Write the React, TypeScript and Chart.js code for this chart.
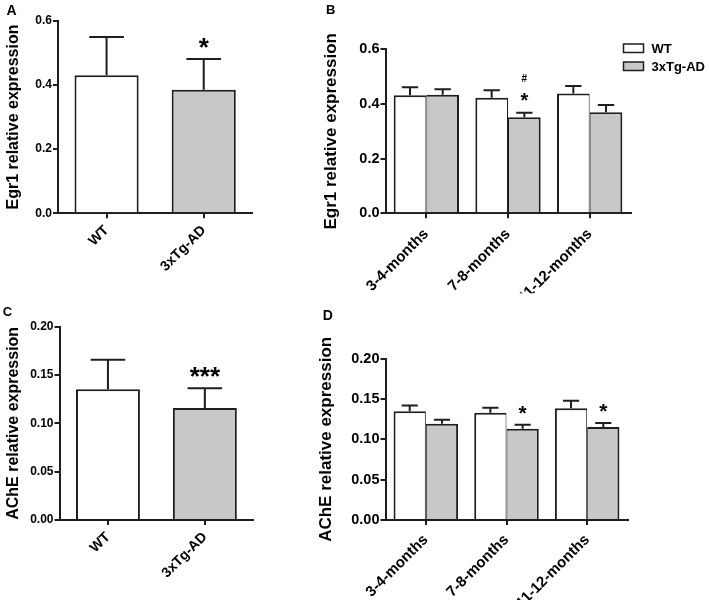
import React, { useEffect, useRef } from "react";
import { Chart, registerables } from "chart.js";

Chart.register(...registerables);

// ---------- data ----------
const groupLabels = ["WT", "3xTg-AD"];
const ageLabels = ["3-4-months", "7-8-months", "11-12-months"];
const seriesNames = ["WT", "3xTg-AD"];

const egr1Overall = [0.43, 0.385];
const egr1OverallErr = [0.119, 0.096];
const egr1OverallMarks = [[], ["*"]];

const egr1WT = [0.432, 0.423, 0.438];
const egr1WTErr = [0.029, 0.027, 0.028];
const egr1Tg = [0.434, 0.351, 0.37];
const egr1TgErr = [0.02, 0.017, 0.026];
const egr1TgMarks = [[], ["*", "#"], []];

const acheOverall = [0.1352, 0.1159];
const acheOverallErr = [0.0307, 0.0203];
const acheOverallMarks = [[], ["***"]];

const acheWT = [0.1347, 0.1331, 0.1385];
const acheWTErr = [0.0074, 0.0062, 0.0094];
const acheTg = [0.1194, 0.1132, 0.1153];
const acheTgErr = [0.005, 0.005, 0.005];
const acheTgMarks = [[], ["*"], ["*"]];

const egr1Ticks = { max: 0.6, step: 0.2, decimals: 1 };
const acheTicks = { max: 0.2, step: 0.05, decimals: 2 };

// ---------- style ----------
const FONT = "'Liberation Sans', Arial, Helvetica, sans-serif";
const INK = "#1e1e1e";
const WT_FILL = "#ffffff";
const TG_FILL = "#c8c8c8";
const W = 709;
const H = 610;

const errorBarPlugin = {
  id: "errorBars",
  afterDatasetsDraw(chart: any, _args: any, opts: any) {
    const ctx = chart.ctx;
    const y = chart.scales.y;
    chart.data.datasets.forEach((ds: any, di: number) => {
      const meta = chart.getDatasetMeta(di);
      meta.data.forEach((bar: any, i: number) => {
        const v = ds.data[i];
        const e = ds.errors ? ds.errors[i] : null;
        if (e == null) return;
        const top = y.getPixelForValue(v + e);
        const cw = bar.width * (opts.capRatio || 0.5);
        ctx.save();
        ctx.strokeStyle = INK;
        ctx.lineWidth = 2;
        ctx.beginPath();
        ctx.moveTo(bar.x, bar.y);
        ctx.lineTo(bar.x, top);
        ctx.moveTo(bar.x - cw / 2, top);
        ctx.lineTo(bar.x + cw / 2, top);
        ctx.stroke();
        const marks: string[] = ds.marks ? ds.marks[i] || [] : [];
        let center = top - opts.gap;
        ctx.fillStyle = "#000";
        ctx.textAlign = "center";
        ctx.textBaseline = "alphabetic";
        marks.forEach((m: string) => {
          const size = m === "#" ? opts.hashSize : opts.starSize;
          ctx.font = `bold ${size}px ${FONT}`;
          const mm = ctx.measureText(m);
          const baseline = center + (mm.actualBoundingBoxAscent - mm.actualBoundingBoxDescent) / 2;
          ctx.fillText(m, bar.x, baseline);
          center -= opts.spacing;
        });
        ctx.restore();
      });
    });
  },
};

const textPlugin = {
  id: "panelText",
  afterDraw(chart: any, _args: any, opts: any) {
    const ctx = chart.ctx;
    ctx.save();
    ctx.fillStyle = "#000";
    ctx.textAlign = "left";
    ctx.textBaseline = "alphabetic";
    ctx.font = `bold ${opts.letterSize}px ${FONT}`;
    ctx.fillText(opts.letter, opts.letterX, opts.letterY);
    if (opts.legend) {
      const L = opts.legend;
      chart.data.datasets.forEach((ds: any, i: number) => {
        const by = L.y + i * L.gap;
        ctx.fillStyle = ds.backgroundColor;
        ctx.fillRect(L.x, by, L.boxW, L.boxH);
        ctx.strokeStyle = INK;
        ctx.lineWidth = 1.5;
        ctx.strokeRect(L.x, by, L.boxW, L.boxH);
        ctx.fillStyle = "#000";
        ctx.font = `bold ${L.size}px ${FONT}`;
        ctx.textBaseline = "middle";
        ctx.fillText(ds.label, L.textX, by + L.boxH / 2 + 1);
      });
    }
    ctx.restore();
  },
};

function buildConfig(spec: any) {
  const lh = spec.titleSize * 1.2;
  const padLeft = spec.titleX - lh / 2;
  const yWidth = spec.area.left - padLeft;
  const xHeight = 80;
  const axisGrid = {
    display: true,
    drawOnChartArea: false,
    drawTicks: true,
    tickLength: 5,
    tickWidth: 2,
    tickColor: INK,
    color: INK,
    lineWidth: 2,
  };
  return {
    type: "bar",
    data: { labels: spec.labels, datasets: spec.datasets },
    options: {
      responsive: false,
      maintainAspectRatio: false,
      animation: false,
      events: [],
      layout: {
        padding: {
          left: padLeft,
          right: W - spec.area.right,
          top: spec.area.top,
          bottom: H - spec.area.bottom - xHeight,
        },
      },
      plugins: {
        legend: { display: false },
        tooltip: { enabled: false },
        title: { display: false },
        errorBars: spec.marks,
        panelText: spec.text,
      },
      scales: {
        x: {
          type: "category",
          offset: true,
          z: 1,
          grid: { ...axisGrid, offset: false },
          border: { display: true, color: INK, width: 2 },
          ticks: {
            color: "#000",
            font: { family: FONT, size: spec.xTickSize, weight: "bold" },
            minRotation: 45,
            maxRotation: 45,
            autoSkip: false,
            padding: spec.xTickPad,
          },
          afterFit: (s: any) => {
            s.height = xHeight;
          },
        },
        y: {
          min: 0,
          max: spec.ticks.max,
          z: 1,
          grid: axisGrid,
          border: { display: true, color: INK, width: 2 },
          ticks: {
            stepSize: spec.ticks.step,
            callback: (v: any) => Number(v).toFixed(spec.ticks.decimals),
            color: "#000",
            font: { family: FONT, size: spec.yTickSize, weight: "bold" },
            padding: 1,
          },
          title: {
            display: true,
            text: spec.yTitle,
            color: "#000",
            font: { family: FONT, size: spec.titleSize, weight: "bold" },
            padding: 0,
          },
          afterFit: (s: any) => {
            s.width = yWidth;
          },
        },
      },
    },
    plugins: [errorBarPlugin, textPlugin],
  };
}

const sideBorders = (side: "left" | "right") =>
  side === "left"
    ? { left: 2, right: 1, top: 2, bottom: 0 }
    : { left: 1, right: 2, top: 2, bottom: 0 };

function specA() {
  return {
    labels: groupLabels,
    area: { left: 58, right: 252.3, top: 20.7, bottom: 213.3 },
    titleX: 13.7,
    titleSize: 16,
    yTitle: "Egr1 relative expression",
    yTickSize: 12,
    xTickSize: 14,
    xTickPad: 4,
    ticks: egr1Ticks,
    datasets: [
      {
        label: "Egr1",
        data: egr1Overall,
        errors: egr1OverallErr,
        marks: egr1OverallMarks,
        backgroundColor: [WT_FILL, TG_FILL],
        borderColor: INK,
        borderWidth: 2,
        categoryPercentage: 0.8,
        barPercentage: 0.825,
      },
    ],
    marks: { gap: 16, spacing: 19, starSize: 26, hashSize: 10, capRatio: 0.54 },
    text: { letter: "A", letterX: 6.5, letterY: 15, letterSize: 14 },
  };
}

function specB() {
  return {
    labels: ageLabels,
    area: { left: 385.5, right: 630.5, top: 49.3, bottom: 213.3 },
    titleX: 331.5,
    titleSize: 17,
    yTitle: "Egr1 relative expression",
    yTickSize: 14.5,
    xTickSize: 15,
    xTickPad: 7,
    ticks: egr1Ticks,
    datasets: [
      {
        label: seriesNames[0],
        data: egr1WT,
        errors: egr1WTErr,
        backgroundColor: WT_FILL,
        borderColor: INK,
        borderWidth: sideBorders("left"),
        categoryPercentage: 0.8,
        barPercentage: 1,
      },
      {
        label: seriesNames[1],
        data: egr1Tg,
        errors: egr1TgErr,
        marks: egr1TgMarks,
        backgroundColor: TG_FILL,
        borderColor: INK,
        borderWidth: sideBorders("right"),
        categoryPercentage: 0.8,
        barPercentage: 1,
      },
    ],
    marks: { gap: 15.7, spacing: 19, starSize: 20, hashSize: 10, capRatio: 0.5 },
    text: {
      letter: "B",
      letterX: 326,
      letterY: 14,
      letterSize: 13,
      legend: { x: 623.5, y: 44, gap: 18, boxW: 20, boxH: 8.5, textX: 651.5, size: 13 },
    },
  };
}

function specC() {
  return {
    labels: groupLabels,
    area: { left: 59.5, right: 253.3, top: 326.7, bottom: 520 },
    titleX: 13.7,
    titleSize: 16,
    yTitle: "AChE relative expression",
    yTickSize: 12,
    xTickSize: 14,
    xTickPad: 4,
    ticks: acheTicks,
    datasets: [
      {
        label: "AChE",
        data: acheOverall,
        errors: acheOverallErr,
        marks: acheOverallMarks,
        backgroundColor: [WT_FILL, TG_FILL],
        borderColor: INK,
        borderWidth: 2,
        categoryPercentage: 0.8,
        barPercentage: 0.825,
      },
    ],
    marks: { gap: 16.6, spacing: 19, starSize: 26, hashSize: 10, capRatio: 0.54 },
    text: { letter: "C", letterX: 2.7, letterY: 316, letterSize: 13 },
  };
}

function specD() {
  return {
    labels: ageLabels,
    area: { left: 385.5, right: 627.5, top: 358.7, bottom: 520 },
    titleX: 326,
    titleSize: 17,
    yTitle: "AChE relative expression",
    yTickSize: 14.5,
    xTickSize: 15,
    xTickPad: 6,
    ticks: acheTicks,
    datasets: [
      {
        label: seriesNames[0],
        data: acheWT,
        errors: acheWTErr,
        backgroundColor: WT_FILL,
        borderColor: INK,
        borderWidth: sideBorders("left"),
        categoryPercentage: 0.8,
        barPercentage: 1,
      },
      {
        label: seriesNames[1],
        data: acheTg,
        errors: acheTgErr,
        marks: acheTgMarks,
        backgroundColor: TG_FILL,
        borderColor: INK,
        borderWidth: sideBorders("right"),
        categoryPercentage: 0.8,
        barPercentage: 1,
      },
    ],
    marks: { gap: 14.7, spacing: 19, starSize: 21, hashSize: 10, capRatio: 0.5 },
    text: { letter: "D", letterX: 322.7, letterY: 320, letterSize: 14 },
  };
}

function Panel({ make }: { make: () => any }) {
  const ref = useRef<HTMLCanvasElement>(null);
  useEffect(() => {
    const chart = new Chart(ref.current as HTMLCanvasElement, buildConfig(make()) as any);
    return () => chart.destroy();
  }, [make]);
  return (
    <canvas
      ref={ref}
      width={W}
      height={H}
      style={{ position: "absolute", left: 0, top: 0, width: W, height: H }}
    />
  );
}

export default function App() {
  return (
    <div
      style={{
        position: "absolute",
        left: 0,
        top: 0,
        width: W,
        height: H,
        background: "#ffffff",
        overflow: "hidden",
      }}
    >
      <Panel make={specA} />
      <Panel make={specB} />
      <Panel make={specC} />
      <Panel make={specD} />
    </div>
  );
}
